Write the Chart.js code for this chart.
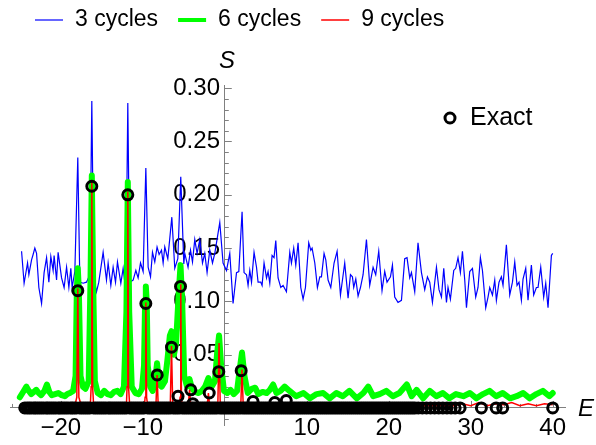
<!DOCTYPE html>
<html>
<head>
<meta charset="utf-8">
<script src="https://cdn.jsdelivr.net/npm/chart.js@4.4.0/dist/chart.umd.min.js"></script>
<style>
  body { margin: 0; background: #fff; }
  #wrap { width: 596px; height: 445px; }
</style>
</head>
<body>
<div id="wrap"><canvas id="spectrum"></canvas></div>
<script>
// [E, S] pairs
const threeCycles = [
  [-24.79,0.147],[-24.48,0.117],[-24.06,0.136],[-23.90,0.125],[-23.57,0.139],[-23.38,0.144],[-23.17,0.150],[-22.96,0.145],
  [-22.68,0.113],[-22.35,0.098],[-22.04,0.127],[-21.74,0.141],[-21.46,0.118],[-21.22,0.142],[-20.94,0.129],[-20.82,0.143],
  [-20.52,0.120],[-20.33,0.146],[-19.91,0.122],[-19.60,0.113],[-19.30,0.132],[-19.02,0.113],[-18.78,0.131],[-18.62,0.113],
  [-18.29,0.128],[-17.93,0.235],[-17.68,0.118],[-17.28,0.117],[-16.87,0.118],[-16.46,0.125],[-16.22,0.288],[-15.98,0.123],
  [-15.65,0.109],[-15.37,0.118],[-14.84,0.146],[-14.43,0.120],[-14.23,0.136],[-13.90,0.115],[-13.62,0.132],[-13.33,0.118],
  [-13.09,0.137],[-12.68,0.117],[-12.40,0.131],[-12.07,0.110],[-11.83,0.286],[-11.59,0.118],[-11.18,0.120],[-10.85,0.129],
  [-10.57,0.122],[-10.28,0.136],[-9.96,0.128],[-9.63,0.225],[-9.35,0.132],[-9.06,0.123],[-8.82,0.146],[-8.54,0.137],
  [-8.26,0.151],[-8.01,0.144],[-7.72,0.148],[-7.52,0.136],[-7.32,0.151],[-6.95,0.140],[-6.46,0.179],[-6.10,0.131],
  [-5.73,0.140],[-5.37,0.217],[-5.00,0.135],[-4.88,0.145],[-4.48,0.132],[-4.18,0.148],[-3.94,0.137],[-3.66,0.158],
  [-3.38,0.145],[-3.05,0.158],[-2.72,0.136],[-2.44,0.145],[-2.16,0.127],[-1.83,0.148],[-1.50,0.136],[-1.22,0.145],
  [-0.61,0.174],[-0.21,0.136],[0.21,0.129],[0.61,0.145],[1.01,0.098],[1.43,0.127],[1.71,0.128],[2.11,0.184],
  [2.35,0.127],[2.65,0.125],[2.84,0.115],[3.05,0.129],[3.26,0.118],[3.57,0.146],[3.87,0.132],[4.06,0.118],
  [4.39,0.118],[4.55,0.115],[4.79,0.136],[5.09,0.122],[5.28,0.128],[5.49,0.117],[5.77,0.143],[6.01,0.141],
  [6.22,0.157],[6.50,0.122],[6.83,0.113],[7.11,0.115],[7.52,0.109],[7.93,0.146],[8.13,0.136],[8.41,0.150],
  [8.66,0.134],[8.94,0.155],[9.27,0.113],[9.55,0.102],[9.84,0.113],[10.24,0.155],[10.49,0.148],[10.65,0.150],
  [10.98,0.136],[11.30,0.113],[11.59,0.123],[11.79,0.123],[12.11,0.145],[12.32,0.139],[12.60,0.120],[12.93,0.113],
  [13.33,0.136],[13.70,0.147],[14.11,0.106],[14.63,0.136],[15.04,0.103],[15.33,0.125],[15.57,0.123],[15.73,0.113],
  [15.98,0.121],[16.26,0.105],[16.55,0.113],[16.87,0.125],[17.28,0.158],[17.68,0.115],[18.09,0.132],[18.41,0.125],
  [18.78,0.147],[19.18,0.110],[19.51,0.128],[19.79,0.118],[20.21,0.123],[20.45,0.134],[20.73,0.104],[21.13,0.099],
  [21.55,0.101],[21.95,0.140],[22.23,0.141],[22.56,0.122],[22.77,0.127],[23.17,0.109],[23.57,0.155],[23.99,0.127],
  [24.39,0.111],[24.72,0.123],[25.00,0.118],[25.33,0.099],[25.82,0.132],[26.13,0.111],[26.43,0.104],[26.71,0.131],
  [27.04,0.099],[27.23,0.113],[27.52,0.102],[27.93,0.129],[28.17,0.131],[28.45,0.141],[28.74,0.127],[28.99,0.147],
  [29.27,0.120],[29.48,0.094],[29.88,0.128],[30.21,0.131],[30.61,0.104],[30.89,0.113],[31.18,0.141],[31.43,0.129],
  [31.83,0.094],[32.11,0.104],[32.32,0.113],[32.65,0.106],[32.93,0.120],[33.13,0.101],[33.45,0.118],[33.74,0.123],
  [33.94,0.115],[34.35,0.153],[34.76,0.106],[35.09,0.118],[35.37,0.137],[35.65,0.115],[35.89,0.118],[36.18,0.101],
  [36.38,0.121],[36.71,0.131],[36.99,0.101],[37.40,0.134],[37.68,0.106],[38.01,0.113],[38.21,0.113],[38.54,0.132],
  [38.90,0.104],[39.15,0.117],[39.43,0.094],[39.84,0.143],[40.00,0.145]
];

const sixCycles = [
  [-25.0,0.010],[-24.6,0.015],[-24.2,0.020],[-23.9,0.016],[-23.6,0.013],[-23.3,0.015],[-23.0,0.017],[-22.7,0.014],
  [-22.4,0.012],[-22.0,0.016],[-21.7,0.022],[-21.4,0.015],[-21.1,0.012],[-20.7,0.013],[-20.3,0.014],[-19.9,0.012],
  [-19.5,0.011],[-19.2,0.013],[-18.9,0.014],[-18.5,0.016],[-18.2,0.030],[-18.05,0.110],[-17.93,0.131],[-17.8,0.110],
  [-17.6,0.030],[-17.3,0.020],[-17.0,0.018],[-16.6,0.025],[-16.38,0.120],[-16.22,0.218],[-16.06,0.120],[-15.85,0.025],
  [-15.5,0.014],[-15.1,0.012],[-14.7,0.016],[-14.3,0.013],[-13.9,0.012],[-13.5,0.015],[-13.1,0.016],[-12.7,0.013],
  [-12.3,0.020],[-12.0,0.090],[-11.83,0.212],[-11.66,0.090],[-11.35,0.020],[-10.9,0.014],[-10.5,0.013],[-10.1,0.018],
  [-9.85,0.040],[-9.72,0.100],[-9.63,0.114],[-9.52,0.100],[-9.4,0.040],[-9.1,0.020],[-8.8,0.016],[-8.5,0.025],
  [-8.26,0.042],[-8.0,0.022],[-7.7,0.020],[-7.3,0.025],[-7.0,0.045],[-6.7,0.068],[-6.5,0.072],[-6.2,0.050],
  [-5.95,0.060],[-5.6,0.110],[-5.4,0.134],[-5.2,0.100],[-4.95,0.030],[-4.6,0.020],[-4.3,0.027],[-4.0,0.018],
  [-3.6,0.015],[-3.2,0.014],[-2.8,0.016],[-2.4,0.020],[-2.0,0.028],[-1.6,0.020],[-1.2,0.025],[-0.95,0.050],
  [-0.7,0.068],[-0.45,0.040],[-0.1,0.016],[0.3,0.014],[0.7,0.017],[1.1,0.013],[1.5,0.016],[1.8,0.035],
  [2.1,0.052],[2.4,0.030],[2.8,0.014],[3.3,0.018],[3.7,0.019],[4.1,0.013],[4.6,0.015],[5.1,0.014],
  [5.5,0.017],[5.9,0.022],[6.3,0.014],[6.8,0.016],[7.3,0.020],[7.9,0.016],[8.7,0.011],[9.6,0.014],
  [10.4,0.009],[11.2,0.013],[12.0,0.014],[12.8,0.009],[13.6,0.014],[14.4,0.011],[15.2,0.016],[16.1,0.009],
  [16.9,0.014],[17.5,0.020],[18.1,0.011],[18.9,0.013],[19.7,0.016],[20.5,0.011],[21.3,0.014],[22.2,0.022],
  [22.8,0.011],[23.4,0.017],[24.2,0.009],[25.0,0.016],[25.8,0.011],[26.6,0.014],[27.4,0.009],[28.2,0.013],
  [29.1,0.011],[29.9,0.014],[30.7,0.009],[31.5,0.013],[32.3,0.016],[33.1,0.011],[33.9,0.014],[34.8,0.009],
  [35.6,0.011],[36.4,0.014],[37.2,0.009],[38.0,0.013],[38.8,0.016],[39.6,0.011],[40.0,0.014]
];

const nineCycles = [
  [-25.0,0.002],[-18.3,0.002],[-18.05,0.010],[-17.93,0.112],[-17.8,0.010],[-17.5,0.002],[-16.4,0.003],[-16.3,0.020],
  [-16.22,0.212],[-16.12,0.020],[-16.0,0.002],[-12.0,0.002],[-11.92,0.020],[-11.83,0.203],[-11.74,0.020],[-11.6,0.002],
  [-9.8,0.002],[-9.72,0.010],[-9.63,0.099],[-9.54,0.010],[-9.4,0.002],[-8.4,0.002],[-8.26,0.031],[-8.12,0.002],
  [-6.65,0.002],[-6.5,0.058],[-6.35,0.002],[-5.55,0.002],[-5.45,0.010],[-5.37,0.116],[-5.29,0.010],[-5.2,0.002],
  [-4.45,0.002],[-4.3,0.017],[-4.15,0.002],[-2.15,0.002],[-2.0,0.014],[-1.85,0.002],[-0.85,0.002],[-0.7,0.061],
  [-0.55,0.002],[1.95,0.002],[2.1,0.036],[2.25,0.002],[28.0,0.002],[29.0,0.004],[30.0,0.002],[31.0,0.005],
  [32.0,0.002],[33.0,0.004],[34.0,0.003],[35.0,0.005],[36.0,0.002],[37.0,0.004],[38.0,0.002],[39.0,0.004],[40.0,0.003]
];

// exact eigenvalues with visible weight
const exactPeaks = [
  [-17.93,0.110],[-16.22,0.208],[-11.83,0.200],[-9.63,0.098],[-8.24,0.031],[-6.5,0.057],[-5.4,0.114],[-5.7,0.011],
  [-4.15,0.017],[-3.9,0.004],[-1.9,0.014],[-0.73,0.034],[2.0,0.035],[3.45,0.006],[6.1,0.005],[7.5,0.007]
];
// exact eigenvalues sitting on S = 0
const exactZeroE = [
  -24.4,-24.1,-23.85,-23.6,-23.3,-23.1,-22.85,-22.6,-22.35,-22.1,-21.8,-21.6,-21.35,-21.1,-20.85,-20.6,-20.3,-20.1,
  -19.85,-19.6,-19.35,-19.1,-18.8,-18.6,-18.35,-18.1,-17.7,-17.45,-17.2,-16.95,-16.7,-16.45,-16.0,-15.75,-15.5,
  -15.25,-15.0,-14.75,-14.5,-14.2,-14.0,-13.75,-13.5,-13.25,-13.0,-12.75,-12.5,-12.25,-12.0,-11.6,-11.35,-11.1,
  -10.85,-10.6,-10.35,-10.1,-9.85,-9.4,-9.15,-8.9,-8.65,-8.4,-8.15,-7.9,-7.65,-7.4,-7.15,-6.9,-6.65,-6.3,-6.05,
  -5.8,-5.55,-5.2,-4.95,-4.7,-4.45,-4.2,-3.95,-3.7,-3.45,-3.2,-2.95,-2.7,-2.45,-2.2,-1.95,-1.7,-1.45,-1.2,-0.95,
  -0.6,-0.35,-0.1,0.15,0.4,0.65,0.9,1.15,1.4,1.65,1.9,2.2,2.45,2.7,2.95,3.2,3.45,3.7,3.95,4.2,4.45,4.7,4.95,
  5.2,5.45,5.7,5.95,6.2,6.45,6.7,6.95,7.2,7.45,7.7,7.95,8.2,8.45,8.7,8.95,9.2,9.45,9.7,9.95,10.2,10.45,10.7,
  10.95,11.2,11.45,11.7,11.95,12.2,12.45,12.7,12.95,13.2,13.45,13.7,13.95,14.2,14.45,14.7,14.95,15.2,15.45,
  15.7,15.95,16.2,16.45,16.7,16.95,17.2,17.45,17.7,17.95,18.2,18.45,18.7,18.95,19.2,19.45,19.7,19.95,20.2,
  20.45,20.7,20.95,21.2,21.45,21.7,21.95,22.2,22.45,22.7,22.95,23.2,23.6,24.1,24.6,25.1,25.6,26.1,26.6,27.1,
  27.6,28.1,28.7,31.3,33.1,33.9,40.0
];

const xTickValues = [-20, -10, 10, 20, 30, 40];
const yTickValues = [0.05, 0.10, 0.15, 0.20, 0.25, 0.30];
const seriesNames = ['3 cycles', '6 cycles', '9 cycles', 'Exact'];
const seriesColors = ['#0000ff', '#00ff00', '#ff0000', '#000000'];

const FONT = '"Liberation Sans", Arial, sans-serif';
const toPoints = (pairs) => pairs.map(([e, s]) => ({ x: e, y: s }));
const exactPoints = toPoints(exactPeaks).concat(exactZeroE.map((e) => ({ x: e, y: 0 })));

// Mathematica-like axes: inward ticks, legend row, axis names
const axisDecor = {
  id: 'axisDecor',
  beforeDatasetsDraw(chart) {
    const { ctx, scales: { x, y } } = chart;
    const x0 = x.getPixelForValue(0);
    const y0 = y.getPixelForValue(0);
    ctx.save();
    ctx.strokeStyle = '#808080';
    ctx.lineWidth = 1;
    for (let i = -1; i <= 30; i++) {
      if (i === 0) continue;
      const py = Math.round(y.getPixelForValue(i / 100)) + 0.5;
      const len = i % 5 === 0 ? 7 : 4;
      ctx.beginPath(); ctx.moveTo(x0, py); ctx.lineTo(x0 + len, py); ctx.stroke();
    }
    for (let i = -26; i <= 40; i += 2) {
      if (i === 0) continue;
      const px = Math.round(x.getPixelForValue(i)) + 0.5;
      const len = i % 10 === 0 ? 7 : 4;
      ctx.beginPath(); ctx.moveTo(px, y0); ctx.lineTo(px, y0 - len); ctx.stroke();
    }
    ctx.restore();
  },
  afterDraw(chart) {
    const { ctx } = chart;
    ctx.save();
    // top legend
    ctx.font = '23px ' + FONT;
    ctx.textBaseline = 'middle';
    ctx.fillStyle = '#000';
    const widths = [1.2, 4, 1.5];
    let cx = 35;
    for (let i = 0; i < 3; i++) {
      ctx.strokeStyle = seriesColors[i];
      ctx.lineWidth = widths[i];
      ctx.beginPath(); ctx.moveTo(cx, 20); ctx.lineTo(cx + 28, 20); ctx.stroke();
      ctx.fillText(seriesNames[i], cx + 40, 20);
      cx += 40 + ctx.measureText(seriesNames[i]).width + 20;
    }
    // exact legend
    ctx.strokeStyle = '#000';
    ctx.lineWidth = 3;
    ctx.beginPath(); ctx.arc(450, 118, 5, 0, Math.PI * 2); ctx.stroke();
    ctx.font = '25px ' + FONT;
    ctx.fillText(seriesNames[3], 470, 118);
    // axis names
    ctx.font = 'italic 24px ' + FONT;
    ctx.textAlign = 'center';
    ctx.fillText('S', 227, 61);
    ctx.fillText('E', 586, 409);
    ctx.restore();
  }
};

new Chart(document.getElementById('spectrum'), {
  type: 'line',
  data: {
    datasets: [
      { label: seriesNames[0], data: toPoints(threeCycles), borderColor: seriesColors[0], borderWidth: 1.2,
        pointRadius: 0, order: 3 },
      { label: seriesNames[1], data: toPoints(sixCycles), borderColor: seriesColors[1], borderWidth: 6,
        pointRadius: 0, borderJoinStyle: 'round', borderCapStyle: 'round', order: 2 },
      { label: seriesNames[2], data: toPoints(nineCycles), borderColor: seriesColors[2], borderWidth: 1.5,
        pointRadius: 0, order: 1 },
      { label: seriesNames[3], data: exactPoints, showLine: false, pointRadius: 5, pointBorderWidth: 3,
        pointBorderColor: seriesColors[3], pointBackgroundColor: 'rgba(0,0,0,0)', order: 0 }
    ]
  },
  options: {
    responsive: true,
    maintainAspectRatio: false,
    animation: false,
    layout: { padding: { left: 10, right: 31, top: 85, bottom: 20 } },
    plugins: { legend: { display: false }, tooltip: { enabled: false } },
    scales: {
      x: {
        type: 'linear', min: -26.2, max: 41.5, position: { y: 0 },
        grid: { drawOnChartArea: false, drawTicks: false },
        border: { color: '#808080', width: 1 },
        afterBuildTicks: (scale) => { scale.ticks = xTickValues.map((v) => ({ value: v })); },
        ticks: {
          font: { family: FONT, size: 24 }, color: '#000', padding: 6, maxRotation: 0, autoSkip: false,
          callback: (v) => (v < 0 ? '\u2212' + Math.abs(v) : String(v))
        }
      },
      y: {
        type: 'linear', min: -0.016, max: 0.303, position: { x: 0 },
        grid: { drawOnChartArea: false, drawTicks: false },
        border: { color: '#808080', width: 1 },
        afterBuildTicks: (scale) => { scale.ticks = yTickValues.map((v) => ({ value: v })); },
        ticks: {
          font: { family: FONT, size: 24 }, color: '#000', padding: 0, autoSkip: false,
          // thin space keeps the label clear of the axis line
          callback: (v) => v.toFixed(2) + '\u2009'
        }
      }
    }
  },
  plugins: [axisDecor]
});
</script>
</body>
</html>
